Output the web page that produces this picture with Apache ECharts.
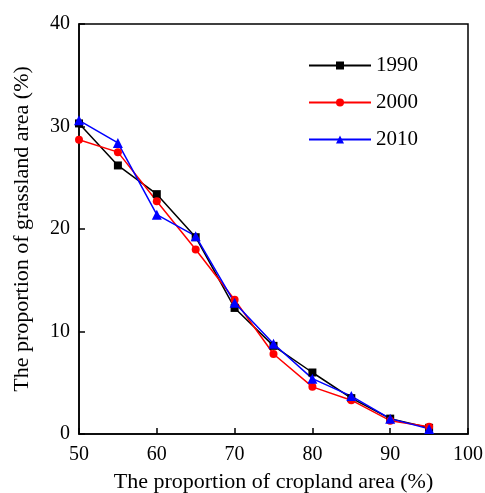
<!DOCTYPE html>
<html>
<head>
<meta charset="utf-8">
<script src="https://cdn.jsdelivr.net/npm/echarts@6/dist/echarts.min.js"></script>
<style>
  html, body { margin: 0; padding: 0; background: #fff; }
  #chart { width: 485px; height: 493px; }
</style>
</head>
<body>
<div id="chart"></div>
<script>
// cropland proportion (%)
var cropland = [50, 55, 60, 65, 70, 75, 80, 85, 90, 95];
// grassland proportion (%) per year
var y1990 = [30.3, 26.2, 23.4, 19.2, 12.3, 8.6, 6.0, 3.5, 1.5, 0.6];
var y2000 = [28.7, 27.5, 22.7, 18.0, 13.1, 7.8, 4.6, 3.3, 1.3, 0.7];
var y2010 = [30.6, 28.4, 21.4, 19.3, 12.8, 8.8, 5.4, 3.7, 1.5, 0.5];

function pairs(ys) {
  return cropland.map(function (x, i) { return [x, ys[i]]; });
}

var myChart = echarts.init(document.getElementById("chart"));
var font = "Liberation Serif";

function line(name, ys, color, symbol, size) {
  return {
    name: name,
    type: "line",
    data: pairs(ys),
    symbol: symbol,
    symbolSize: size,
    lineStyle: { color: color, width: 1.5 },
    itemStyle: { color: color },
  };
}

var option = {
  backgroundColor: "#fff",
  animation: false,
  textStyle: { fontFamily: font },
  grid: {
    left: 79,
    right: 17,
    top: 24,
    bottom: 59,
    outerBoundsMode: "none",
    show: true,
    borderColor: "#000",
    borderWidth: 1.5,
  },
  legend: {
    left: 303,
    top: 50,
    orient: "vertical",
    itemWidth: 62,
    itemHeight: 10,
    itemGap: 16,
    textStyle: { fontFamily: font, fontSize: 21, color: "#000" },
    data: ["1990", "2000", "2010"],
  },
  xAxis: {
    type: "value",
    min: 50,
    max: 100,
    interval: 10,
    name: "The proportion of cropland area (%)",
    nameLocation: "middle",
    nameGap: 37,
    nameTextStyle: { fontFamily: font, fontSize: 22, color: "#000" },
    axisLine: { lineStyle: { color: "#000", width: 1.5 } },
    axisTick: { inside: true, length: 6, lineStyle: { color: "#000", width: 1.5 } },
    axisLabel: { fontFamily: font, fontSize: 20, color: "#000", margin: 11 },
    splitLine: { show: false },
  },
  yAxis: {
    type: "value",
    min: 0,
    max: 40,
    interval: 10,
    name: "The proportion of grassland area (%)",
    nameLocation: "middle",
    nameGap: 46,
    nameTextStyle: { fontFamily: font, fontSize: 22, color: "#000" },
    axisLine: { lineStyle: { color: "#000", width: 1.5 } },
    axisTick: { inside: true, length: 6, lineStyle: { color: "#000", width: 1.5 } },
    axisLabel: { fontFamily: font, fontSize: 20, color: "#000", margin: 9 },
    splitLine: { show: false },
  },
  series: [
    line("1990", y1990, "#000000", "rect", 8),
    line("2000", y2000, "#ff0000", "circle", 8),
    line("2010", y2010, "#0000ff", "triangle", 10),
  ],
};

myChart.setOption(option);
</script>
</body>
</html>
